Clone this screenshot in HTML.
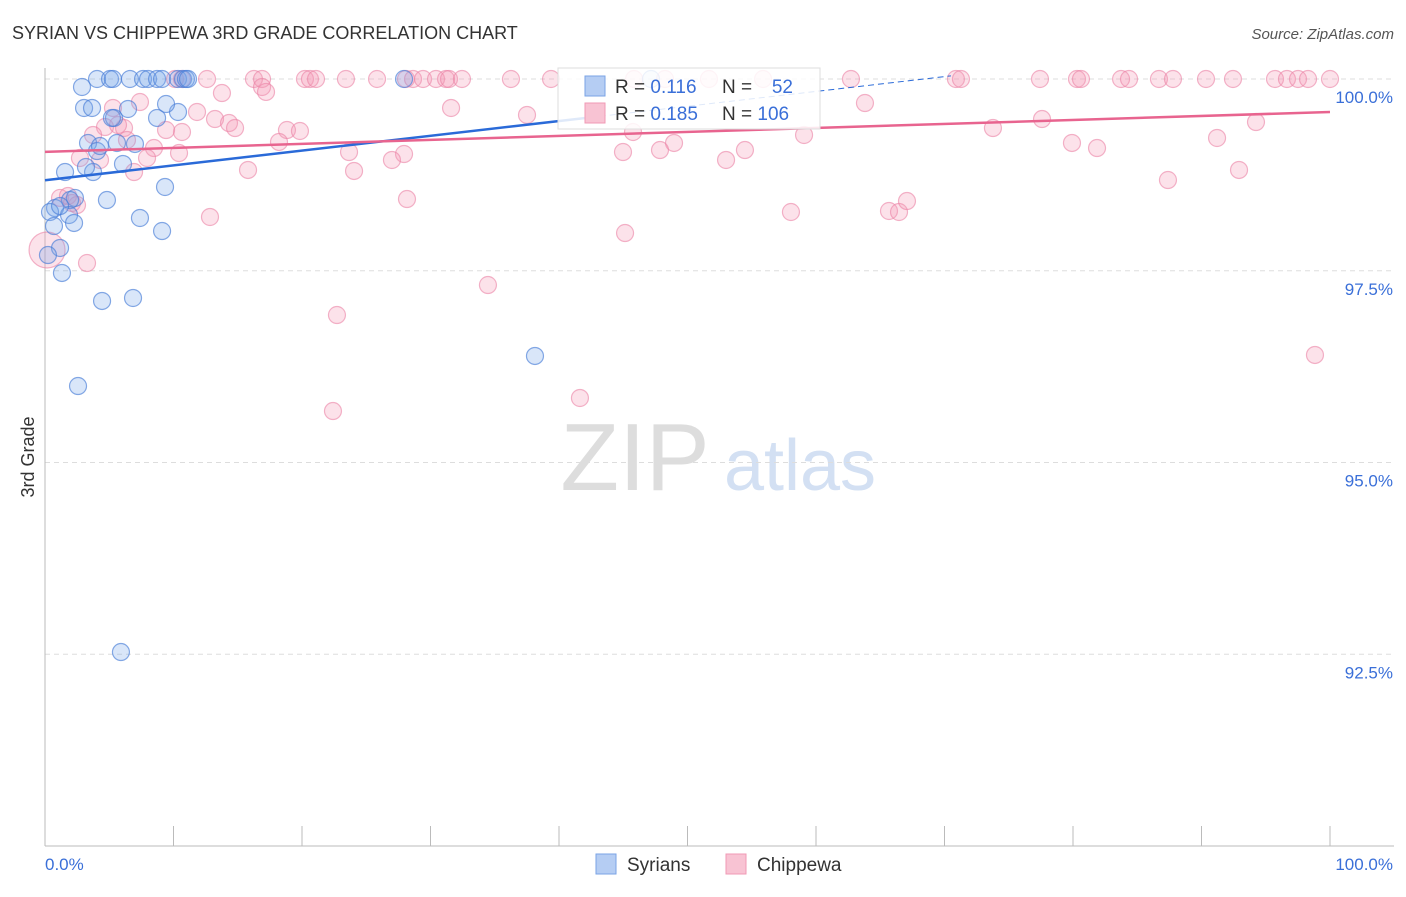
<!DOCTYPE html>
<html><head><meta charset="utf-8"><style>
body{margin:0;background:#fff;font-family:"Liberation Sans",sans-serif;}
svg text{font-family:"Liberation Sans",sans-serif;}
</style></head><body>
<svg id="chart" width="1406" height="892">
<text x="12" y="39" font-size="18" fill="#333">SYRIAN VS CHIPPEWA 3RD GRADE CORRELATION CHART</text>
<text x="1394" y="39" font-size="15" fill="#555" text-anchor="end" font-style="italic">Source: ZipAtlas.com</text>
<text x="34" y="457" font-size="18" fill="#333" transform="rotate(-90 34 457)" text-anchor="middle">3rd Grade</text>
<g><text x="635" y="490" font-size="96" fill="#ddd" text-anchor="middle" font-family="Liberation Serif">ZIP</text><text x="800" y="490" font-size="72" fill="#d3e0f3" text-anchor="middle">atlas</text></g>
<g id="grid"></g><g id="axes"></g><g id="pts"></g><g id="lines"></g>
<g>
<rect x="558" y="68" width="262" height="61" fill="#fff" fill-opacity="0.85" stroke="#ddd"/>
<rect x="585" y="76" width="20" height="20" fill="#b5cdf3" stroke="#7aa3e6"/>
<rect x="585" y="103" width="20" height="20" fill="#f8c3d3" stroke="#f09ab5"/>
<text x="615" y="93" font-size="19" fill="#333">R = <tspan fill="#3a6fd8">0.116</tspan></text>
<text x="722" y="93" font-size="19" fill="#333">N = </text><text x="793" y="93" font-size="19" fill="#3a6fd8" text-anchor="end">52</text>
<text x="615" y="120" font-size="19" fill="#333">R = <tspan fill="#3a6fd8">0.185</tspan></text>
<text x="722" y="120" font-size="19" fill="#333">N = <tspan fill="#3a6fd8">106</tspan></text>
</g>
<g>
<rect x="596" y="854" width="20" height="20" fill="#b5cdf3" stroke="#7aa3e6"/>
<text x="627" y="871" font-size="19" fill="#333">Syrians</text>
<rect x="726" y="854" width="20" height="20" fill="#f8c3d3" stroke="#f09ab5"/>
<text x="757" y="871" font-size="19" fill="#333">Chippewa</text>
</g>
</svg>
<script>
const yTicks=[100,97.5,95,92.5];
const yTickLabels=["100.0%","97.5%","95.0%","92.5%"];
const xTicks=[0,10,20,30,40,50,60,70,80,90,100];
const bluePx=[[97,79],[110,79],[113,79],[130,79],[143,79],[148,79],[157,79],[162,79],[178,79],[183,79],[186,79],[188,79],[404,79],[651,79],[82,87],[84,108],[92,108],[128,109],[178,112],[114,118],[157,118],[88,143],[117,143],[135,144],[97,151],[123,164],[65,172],[93,172],[165,187],[107,200],[75,198],[70,200],[55,208],[50,212],[69,215],[140,218],[74,223],[54,226],[162,231],[60,248],[48,255],[62,273],[102,301],[133,298],[78,386],[535,356],[121,652],[166,104],[86,167],[60,206],[112,118],[100,146]];
const pinkPx=[[175,79],[182,79],[207,79],[254,79],[262,79],[305,79],[310,79],[316,79],[346,79],[377,79],[406,79],[413,79],[423,79],[436,79],[446,79],[449,79],[462,79],[511,79],[551,79],[634,79],[665,79],[709,79],[763,79],[851,79],[956,79],[961,79],[1040,79],[1077,79],[1081,79],[1121,79],[1129,79],[1159,79],[1173,79],[1206,79],[1233,79],[1275,79],[1287,79],[1298,79],[1308,79],[1330,79],[262,87],[266,92],[222,93],[140,102],[113,108],[197,112],[451,108],[527,115],[865,103],[215,119],[229,123],[235,128],[182,132],[166,130],[105,127],[124,128],[93,135],[127,140],[287,130],[300,131],[279,142],[154,148],[179,153],[80,158],[147,158],[100,160],[349,152],[404,154],[392,160],[248,170],[134,172],[354,171],[633,132],[674,143],[660,150],[623,152],[745,150],[726,160],[804,135],[993,128],[1042,119],[1072,143],[1097,148],[1217,138],[1256,122],[1239,170],[1168,180],[60,198],[68,196],[77,205],[407,199],[210,217],[791,212],[889,211],[899,212],[907,201],[625,233],[87,263],[488,285],[337,315],[333,411],[580,398],[1315,355],[47,250],[118,125],[72,203]];
// convert read pixel positions to data values
const syrianX=bluePx.map(p=>+((p[0]-45)/12.85).toFixed(2));
const syrianY=bluePx.map(p=>+(100-(p[1]-79)/76.7).toFixed(3));
const chippewaX=pinkPx.map(p=>+((p[0]-45)/12.85).toFixed(2));
const chippewaY=pinkPx.map(p=>+(100-(p[1]-79)/76.7).toFixed(3));
const syrianTrend=[98.68,0.0193];
const chippewaTrend=[99.05,0.0052];

const X=v=>45+v*12.85, Y=v=>79+(100-v)*76.7;
const NS="http://www.w3.org/2000/svg";
function mk(tag,attrs,parent){const e=document.createElementNS(NS,tag);for(const k in attrs)e.setAttribute(k,attrs[k]);document.getElementById(parent).appendChild(e);return e;}
yTicks.forEach((t,i)=>{
 const l=mk('line',{x1:45,x2:1394,y1:Y(t),y2:Y(t),stroke:'#ddd','stroke-dasharray':'5,4'},'grid');
 
 
 const tx=mk('text',{x:1393,y:Y(t)+24,'font-size':17,fill:'#3a6fd8','text-anchor':'end'},'axes');tx.textContent=yTickLabels[i];
 
 
});
const ax=mk('line',{x1:45,x2:45,y1:68,y2:846,stroke:'#bbb'},'axes');


const bx=mk('line',{x1:45,x2:1394,y1:846,y2:846,stroke:'#bbb'},'axes');


xTicks.forEach(t=>{const l=mk('line',{x1:X(t),x2:X(t),y1:826,y2:846,stroke:'#bbb'},'axes');
 
 });
const xl0=mk('text',{x:45,y:870,'font-size':17,fill:'#3a6fd8'},'axes');xl0.textContent='0.0%';


const xl1=mk('text',{x:1393,y:870,'font-size':17,fill:'#3a6fd8','text-anchor':'end'},'axes');xl1.textContent='100.0%';


chippewaX.forEach((x,i)=>{const c=mk('circle',{cx:X(x),cy:Y(chippewaY[i]),r:(i==pinkPx.length-3?18:8.5),fill:'rgba(245,150,180,0.28)',stroke:'rgba(235,130,165,0.6)','stroke-width':1.2},'pts');
 
 });
syrianX.forEach((x,i)=>{const c=mk('circle',{cx:X(x),cy:Y(syrianY[i]),r:8.5,fill:'rgba(120,165,235,0.28)',stroke:'rgba(70,125,215,0.65)','stroke-width':1.2},'pts');
 
 });
const bl=mk('line',{x1:X(0),y1:Y(syrianTrend[0]),x2:X(42.4),y2:Y(syrianTrend[0]+42.4*syrianTrend[1]),stroke:'#2a6ad8','stroke-width':2.5},'lines');


const bd=mk('line',{x1:X(42.4),y1:Y(syrianTrend[0]+42.4*syrianTrend[1]),x2:X(70.5),y2:Y(syrianTrend[0]+70.5*syrianTrend[1]),stroke:'#2a6ad8','stroke-width':1,'stroke-dasharray':'6,4'},'lines');


const pl=mk('line',{x1:X(0),y1:Y(chippewaTrend[0]),x2:X(100),y2:Y(chippewaTrend[0]+100*chippewaTrend[1]),stroke:'#e8648f','stroke-width':2.5},'lines');


</script>
</body></html>
